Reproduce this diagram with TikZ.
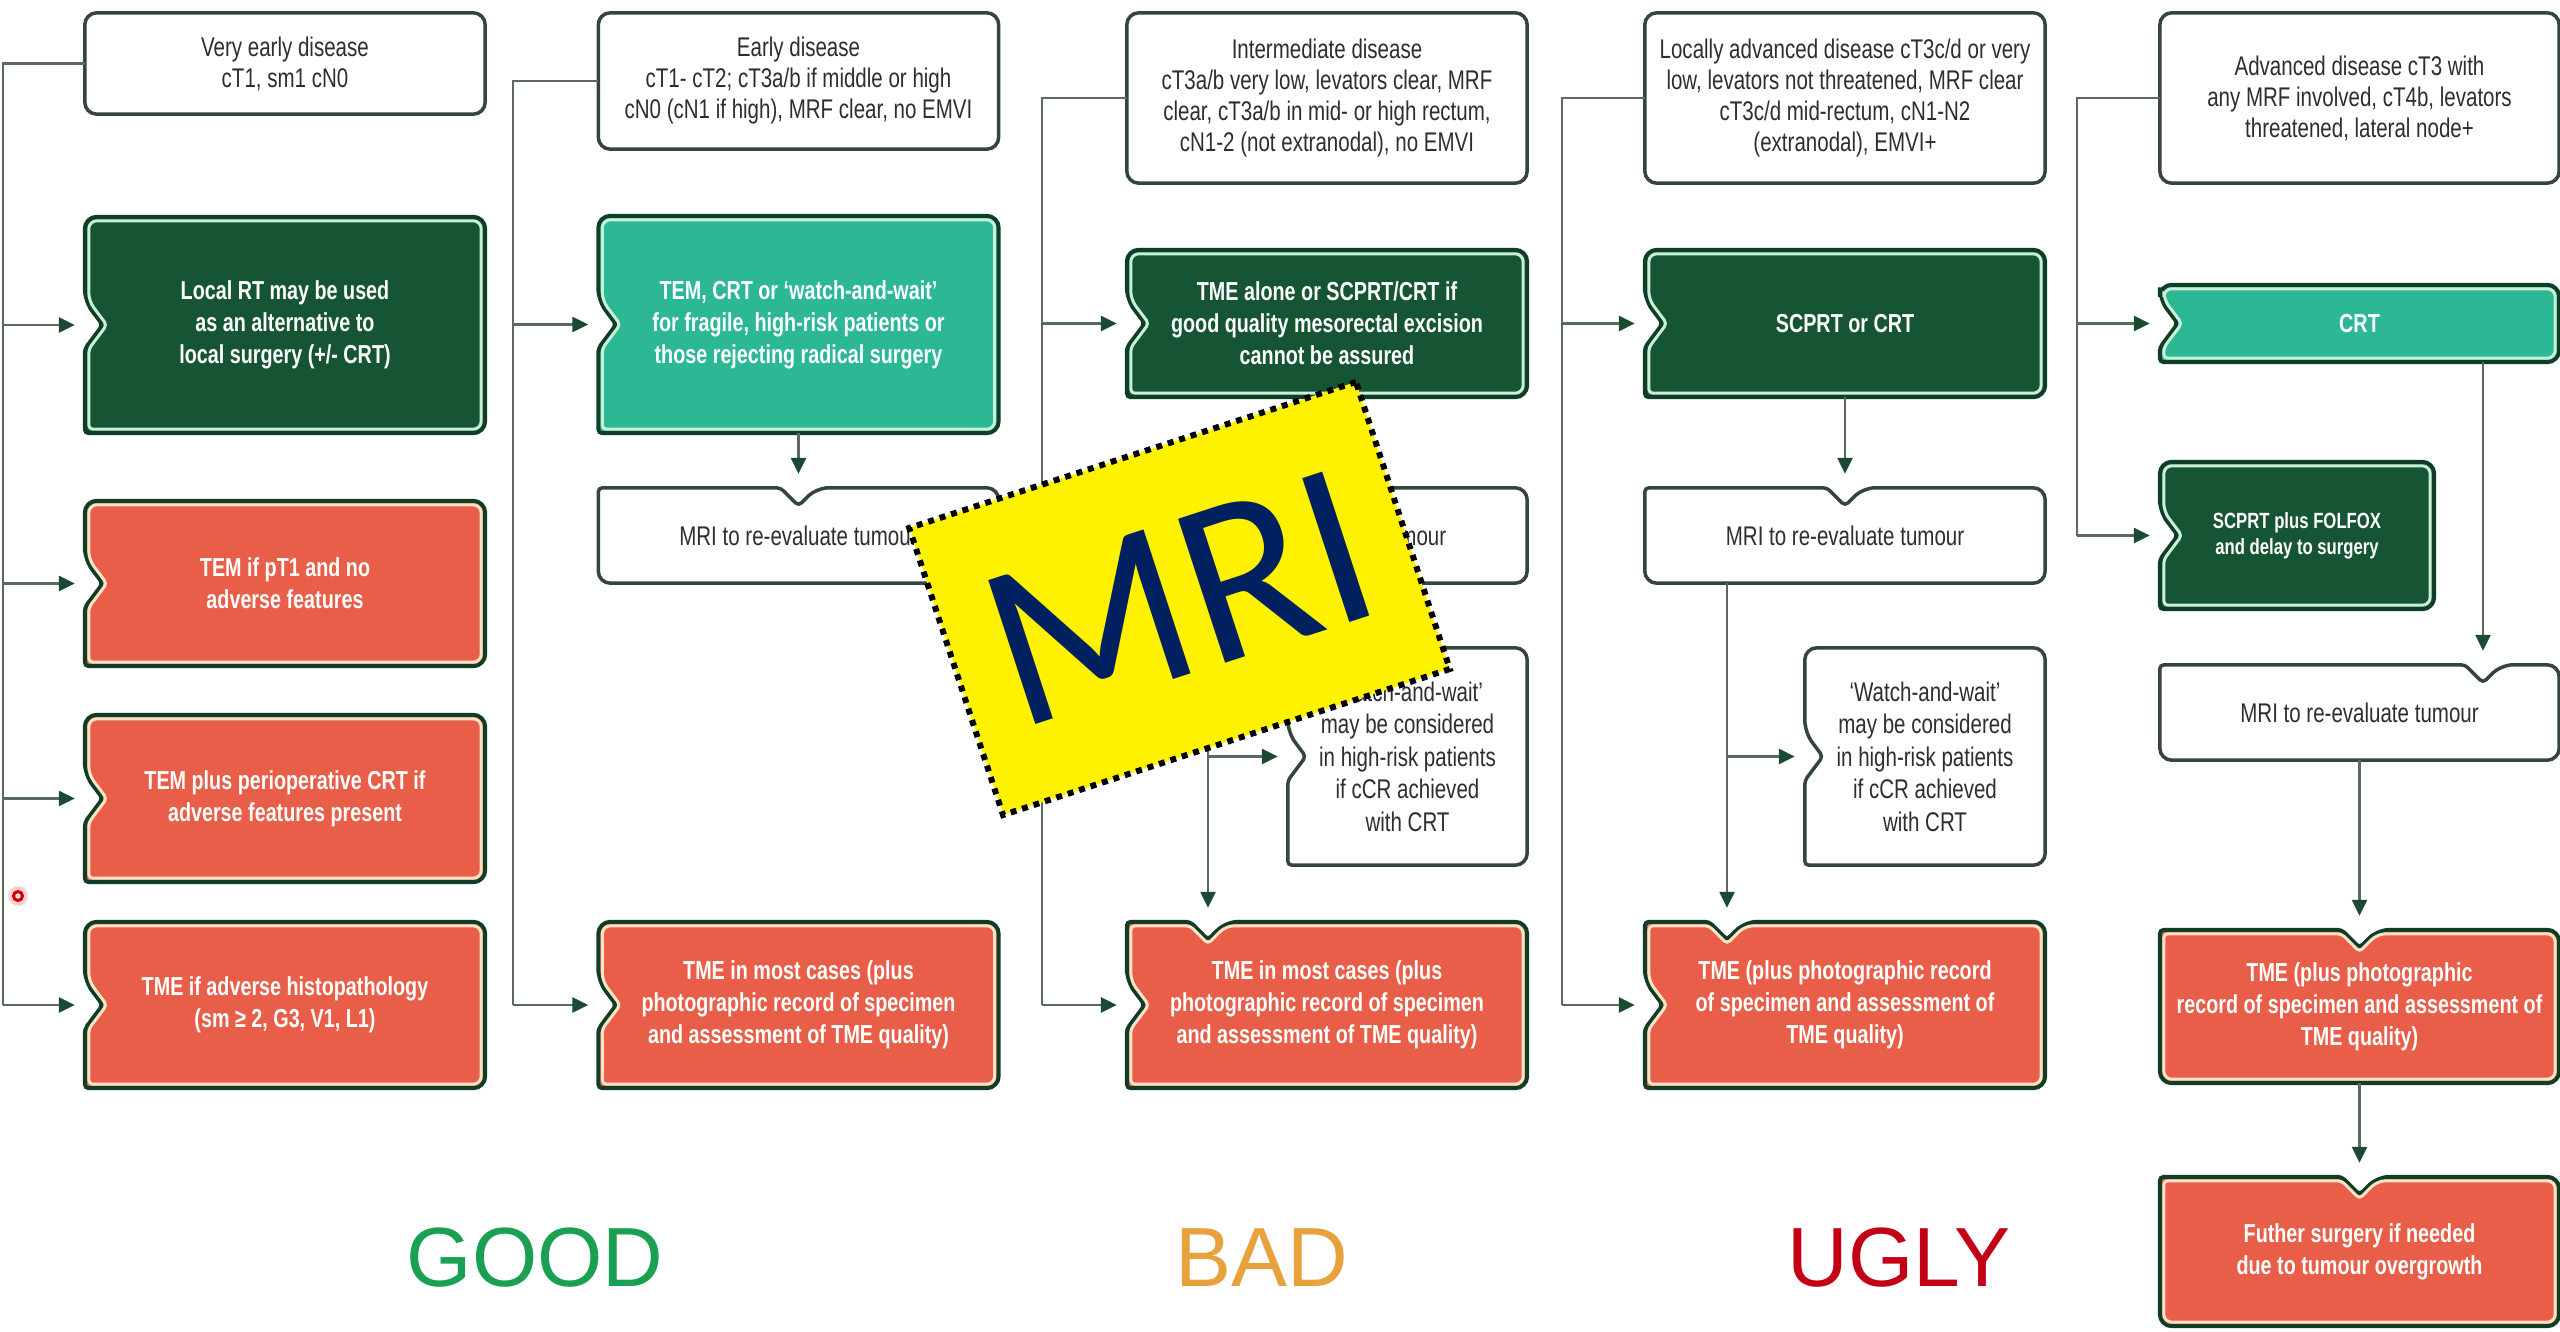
\documentclass[tikz,border=0pt]{standalone}
\usepackage{fontspec}
\setmainfont{Liberation Sans}
\newfontfamily\boxfont{Liberation Sans}[FakeStretch=0.76]
\newfontfamily\labfont{Liberation Sans}
\newfontfamily\mrifont{Carlito}
\usetikzlibrary{arrows.meta,calc}

\definecolor{dkg}{HTML}{165534}
\definecolor{teal2}{HTML}{2CB894}
\definecolor{redb}{HTML}{E95E48}
\definecolor{edge}{HTML}{0F3D26}
\definecolor{mint}{HTML}{C8F0D8}
\definecolor{cream}{HTML}{FBE3C8}
\definecolor{wedge}{HTML}{34463C}
\definecolor{lncol}{HTML}{5A6A60}
\definecolor{tipcol}{HTML}{1B4A32}
\definecolor{txtdark}{HTML}{2E2E2E}
\definecolor{goodc}{HTML}{1AA052}
\definecolor{badc}{HTML}{E9A23B}
\definecolor{uglyc}{HTML}{C20016}
\definecolor{navy}{HTML}{002060}

\pgfdeclarelayer{bg}
\pgfsetlayers{bg,main}

% #1 node, #2 inset, #3 left notch flag, #4 top notch x (0 = none), #5 path options
\newcommand\nshape[5]{%
  \pgfpointanchor{#1}{south west}\pgfgetlastxy{\nW}{\nS}%
  \pgfpointanchor{#1}{north east}\pgfgetlastxy{\nE}{\nN}%
  \pgfmathsetmacro\xW{\nW+#2}%
  \pgfmathsetmacro\xE{\nE-#2}%
  \pgfmathsetmacro\yS{\nS+#2}%
  \pgfmathsetmacro\yN{\nN-#2}%
  \pgfmathsetmacro\yC{(\nN+\nS)/2}%
  \pgfmathsetmacro\xM{(\nW+\nE)/2}%
  \pgfmathsetmacro\rr{12-#2}%
  \pgfmathsetmacro\xLn{\xW+18}%
  \pgfmathsetmacro\yLa{\yC+24}%
  \pgfmathsetmacro\yLb{\yC-24}%
  \ifnum#3=1
    \def\lseg{-- (\xW pt,\yLa pt) [rounded corners=4pt] -- (\xLn pt,\yC pt) -- (\xW pt,\yLb pt)}%
  \else\def\lseg{}\fi
  \ifdim#4pt>0pt
    \pgfmathsetmacro\tA{#4+18}\pgfmathsetmacro\tB{#4-18}\pgfmathsetmacro\yT{\yN-18}%
    \def\tseg{-- (\tA pt,\yN pt) [rounded corners=4pt] -- (#4pt,\yT pt) -- (\tB pt,\yN pt)}%
  \else\def\tseg{}\fi
  \path[#5] (\xM pt,\yS pt) [rounded corners=\rr pt] -- (\xE pt,\yS pt) -- (\xE pt,\yN pt) \tseg
     -- (\xW pt,\yN pt) [rounded corners=\rr pt] \lseg -- (\xW pt,\yS pt) [rounded corners=\rr pt] -- cycle;
}
\newcommand\cbox[5]{%
  \nshape{#1}{0}{#4}{#5}{fill=#2,draw=edge,line width=4pt}%
  \nshape{#1}{4}{#4}{#5}{draw=#3,line width=3pt}}
\newcommand\wbox[3]{\nshape{#1}{0}{#2}{#3}{fill=white,draw=wedge,line width=3.5pt}}

\tikzset{
  bx/.style={inner sep=0pt, align=center, minimum width=400pt},
  wt/.style={bx, font=\boxfont\fontsize{27}{31}\selectfont, text=txtdark},
  ct/.style={bx, font=\boxfont\bfseries\fontsize{26}{32}\selectfont, text=white},
  ln/.style={draw=lncol, line width=2.5pt},
  arr/.style={ln, -{Triangle[length=16pt,width=15pt,color=tipcol]}, shorten >=10pt},
  arrt/.style={ln, -{Triangle[length=16pt,width=15pt,color=tipcol]}, shorten >=14pt},
  lab/.style={font=\labfont\fontsize{84}{84}\selectfont, inner sep=0pt},
}

\begin{document}
\begin{tikzpicture}[x=1pt,y=-1pt]
\useasboundingbox (0,0) rectangle (2560,1332);

% ---------- column A ----------
\node[wt, minimum height=101pt] (A1) at (285,63.5) {Very early disease\\cT1, sm1 cN0};
\node[ct, minimum height=216pt] (A2) at (285,325) {Local RT may be used\\as an alternative to\\local surgery (+/- CRT)};
\node[ct, minimum height=165pt] (A3) at (285,583.5) {TEM if pT1 and no\\adverse features};
\node[ct, minimum height=167pt] (A4) at (285,798.5) {TEM plus perioperative CRT if\\adverse features present};
\node[ct, minimum height=166pt] (A5) at (285,1005) {TME if adverse histopathology\\(sm ≥ 2, G3, V1, L1)};

% ---------- column B ----------
\node[wt, minimum height=136pt] (B1) at (798.5,81) {Early disease\\cT1- cT2; cT3a/b if middle or high\\cN0 (cN1 if high), MRF clear, no EMVI};
\node[ct, minimum height=217pt] (B2) at (798.5,324.5) {TEM, CRT or ‘watch-and-wait’\\for fragile, high-risk patients or\\those rejecting radical surgery};
\node[wt, minimum height=95pt] (B3) at (798.5,535.5) {MRI to re-evaluate tumour};
\node[ct, minimum height=166pt] (B4) at (798.5,1005) {TME in most cases (plus\\photographic record of specimen\\and assessment of TME quality)};

% ---------- column C ----------
\node[wt, minimum height=170pt] (C1) at (1327,98) {Intermediate disease\\cT3a/b very low, levators clear, MRF\\clear, cT3a/b in mid- or high rectum,\\cN1-2 (not extranodal), no EMVI};
\node[ct, minimum height=147pt] (C2) at (1327,323.5) {TME alone or SCPRT/CRT if\\good quality mesorectal excision\\cannot be assured};
\node[wt, minimum height=95pt] (C3) at (1327,535.5) {MRI to re-evaluate tumour};
\node[wt, minimum width=239pt, minimum height=217pt, font=\boxfont\fontsize{27}{32.5}\selectfont] (C4) at (1407.5,756.5) {‘Watch-and-wait’\\may be considered\\in high-risk patients\\if cCR achieved\\with CRT};
\node[ct, minimum height=166pt] (C5) at (1327,1005) {TME in most cases (plus\\photographic record of specimen\\and assessment of TME quality)};

% ---------- column D ----------
\node[wt, minimum height=170pt] (D1) at (1845,98) {Locally advanced disease cT3c/d or very\\low, levators not threatened, MRF clear\\cT3c/d mid-rectum, cN1-N2\\(extranodal), EMVI+};
\node[ct, minimum height=147pt] (D2) at (1845,323.5) {SCPRT or CRT};
\node[wt, minimum height=95pt] (D3) at (1845,535.5) {MRI to re-evaluate tumour};
\node[wt, minimum width=240pt, minimum height=217pt, font=\boxfont\fontsize{27}{32.5}\selectfont] (D4) at (1925,756.5) {‘Watch-and-wait’\\may be considered\\in high-risk patients\\if cCR achieved\\with CRT};
\node[ct, minimum height=166pt] (D5) at (1845,1005) {TME (plus photographic record\\of specimen and assessment of\\TME quality)};

% ---------- column E ----------
\node[wt, minimum width=399pt, minimum height=170pt] (E1) at (2359.5,98) {Advanced disease cT3 with\\any MRF involved, cT4b, levators\\threatened, lateral node+};
\node[ct, minimum width=399pt, minimum height=77pt] (E2) at (2359.5,323.5) {CRT};
\node[ct, minimum width=274pt, minimum height=147pt, font=\boxfont\bfseries\fontsize{22}{26}\selectfont] (E3) at (2297,535.5) {SCPRT plus FOLFOX\\and delay to surgery};
\node[wt, minimum width=399pt, minimum height=95pt] (E4) at (2359.5,712.5) {MRI to re-evaluate tumour};
\node[ct, minimum width=399pt, minimum height=153pt] (E5) at (2359.5,1006.5) {TME (plus photographic\\record of specimen and assessment of\\TME quality)};
\node[ct, minimum width=399pt, minimum height=149pt] (E6) at (2359.5,1251.5) {Futher surgery if needed\\due to tumour overgrowth};

% ---------- labels ----------
\node[lab, text=goodc] (good) at (535,1258) {GOOD};
\node[lab, text=badc] (bad) at (1262,1258) {BAD};
\node[lab, text=uglyc] (ugly) at (1899,1258) {UGLY};

% ---------- shapes (background layer) ----------
\begin{pgfonlayer}{bg}
\fill[white] (0,0) rectangle (2560,1332);
\wbox{A1}{0}{0}
\cbox{A2}{dkg}{mint}{1}{0}
\cbox{A3}{redb}{cream}{1}{0}
\cbox{A4}{redb}{cream}{1}{0}
\cbox{A5}{redb}{cream}{1}{0}
\wbox{B1}{0}{0}
\cbox{B2}{teal2}{mint}{1}{0}
\wbox{B3}{0}{798.5}
\cbox{B4}{redb}{cream}{1}{0}
\wbox{C1}{0}{0}
\cbox{C2}{dkg}{mint}{1}{0}
\wbox{C3}{0}{1327}
\wbox{C4}{1}{0}
\cbox{C5}{redb}{cream}{1}{1208}
\wbox{D1}{0}{0}
\cbox{D2}{dkg}{mint}{1}{0}
\wbox{D3}{0}{1845}
\wbox{D4}{1}{0}
\cbox{D5}{redb}{cream}{1}{1727}
\wbox{E1}{0}{0}
\cbox{E2}{teal2}{mint}{1}{0}
\cbox{E3}{dkg}{mint}{1}{0}
\wbox{E4}{0}{2483}
\cbox{E5}{redb}{cream}{0}{2359.5}
\cbox{E6}{redb}{cream}{0}{2359.5}
\end{pgfonlayer}

% ---------- connectors ----------
\coordinate (tA) at (3,0);
\coordinate (tB) at (513,0);
\coordinate (tC) at (1042,0);
\coordinate (tD) at (1562,0);
\coordinate (tE) at (2077,0);
\coordinate (nC) at (1208,0);
\coordinate (nD) at (1727,0);
\coordinate (nE) at (2483,0);

\draw[ln] (A1.west) -- (A1.west -| tA) -- (A5.west -| tA);
\foreach \n in {A2,A3,A4,A5} \draw[arr] (\n.west -| tA) -- (\n.west);

\draw[ln] (B1.west) -- (B1.west -| tB) -- (B4.west -| tB);
\foreach \n in {B2,B4} \draw[arr] (\n.west -| tB) -- (\n.west);
\draw[arrt] (B2.south) -- (B3.north);

\draw[ln] (C1.west) -- (C1.west -| tC) -- (C5.west -| tC);
\foreach \n in {C2,C5} \draw[arr] (\n.west -| tC) -- (\n.west);
\draw[arrt] (C2.south) -- (C3.north);
\draw[arrt] (C3.south -| nC) -- (C5.north -| nC);
\draw[arr] (C4.west -| nC) -- (C4.west);

\draw[ln] (D1.west) -- (D1.west -| tD) -- (D5.west -| tD);
\foreach \n in {D2,D5} \draw[arr] (\n.west -| tD) -- (\n.west);
\draw[arrt] (D2.south) -- (D3.north);
\draw[arrt] (D3.south -| nD) -- (D5.north -| nD);
\draw[arr] (D4.west -| nD) -- (D4.west);

\draw[ln] (E1.west) -- (E1.west -| tE) -- (E3.west -| tE);
\foreach \n in {E2,E3} \draw[arr] (\n.west -| tE) -- (\n.west);
\draw[arrt] (E2.south -| nE) -- (E4.north -| nE);
\draw[arrt] (E4.south) -- (E5.north);
\draw[arrt] (E5.south) -- (E6.north);

% ---------- pointer dot ----------
\fill[red!25, opacity=0.7] (18,896) circle (10);
\draw[red!80!black, line width=3pt, fill=red!15] (18,896) circle (4.5);

% ---------- MRI sticker ----------
\node[draw=black, line width=6pt, dash pattern=on 6pt off 6pt, fill=yellow,
      rotate=18.1, minimum width=470pt, minimum height=302pt, inner sep=0pt,
      text=navy, font=\mrifont\fontsize{236}{236}\selectfont] (mri) at (1179.5,598.5) {MRI};
\end{tikzpicture}
\end{document}
